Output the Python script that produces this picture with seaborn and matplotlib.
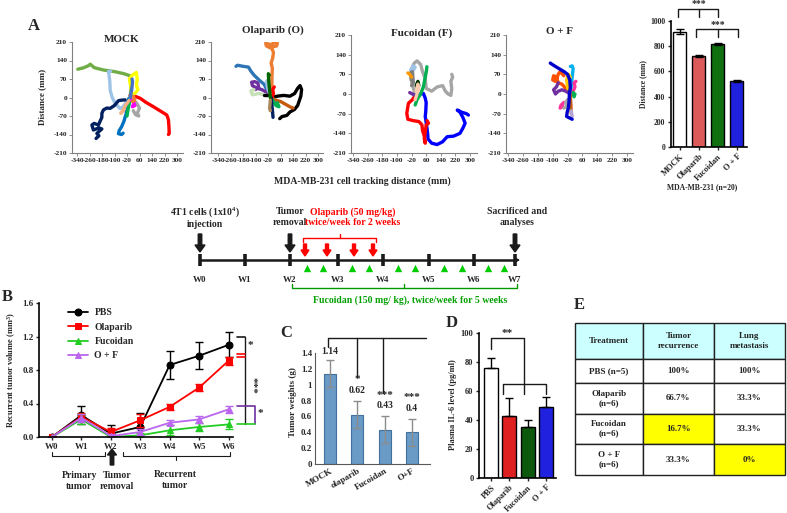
import matplotlib
matplotlib.use("Agg")
import matplotlib.pyplot as plt
import seaborn as sns
import pandas as pd
from matplotlib.patches import FancyArrow

W, H = 787, 513

# ---------------- data ----------------
track_titles = ["MOCK", "Olaparib (O)", "Fucoidan (F)", "O + F"]
track_xticks = [-340, -260, -180, -100, -20, 60, 140, 220, 300]
track_yticks = [-210, -140, -70, 0, 70, 140, 210]

mock_tracks = [
    ("#70AD47", [(0, 0), (4, 30), (2, 60), (0, 82), (-40, 90), (-100, 98), (-170, 104), (-230, 113), (-255, 126), (-268, 120), (-300, 112), (-335, 107)]),
    ("#9DC3E6", [(0, -5), (-20, -15), (-45, -35), (-65, -42), (-95, -22), (-115, 0), (-128, 28), (-130, 60), (-135, 85), (-139, 98), (-125, 100)]),
    ("#002060", [(-32, -9), (-55, -10), (-75, -12), (-100, -30), (-128, -41), (-150, -40), (-171, -47), (-181, -60), (-181, -75), (-203, -104), (-230, -98), (-245, -104), (-235, -123), (-200, -115), (-181, -119), (-213, -136), (-200, -145), (-218, -155)]),
    ("#FF0000", [(0, 8), (30, 5), (64, -3), (100, -18), (149, -35), (190, -50), (234, -66), (240, -75), (245, -85), (248, -110), (250, -136), (245, -140)]),
    ("#FFFF00", [(10, 10), (5, 40), (-5, 70), (15, 85), (40, 95), (45, 70), (40, 45), (50, 30), (30, 15), (10, 10)]),
    ("#0070C0", [(-10, -5), (-20, -30), (-25, -60), (-40, -90), (-55, -111), (-70, -125), (-75, -137), (-55, -140), (-45, -135)]),
    ("#00B050", [(0, -5), (-8, -30), (-15, -50), (-20, -70)]),
    ("#A5A5A5", [(10, -10), (40, -20), (60, -40), (45, -60), (55, -70), (35, -65), (20, -50)]),
    ("#F4B183", [(-5, -10), (-30, -30), (-45, -50), (-60, -60), (-40, -45)]),
    ("#FF00FF", [(10, -10), (25, -20), (15, -35), (30, -30)]),
    ("#ED7D31", [(20, 5), (30, -10), (15, -15)]),
    ("#4472C4", [(0, 0), (10, 30), (15, 60), (12, 70)]),
]
olap_tracks = [
    ("#ED7D31", [(0, 0), (5, 40), (5, 80), (8, 110), (0, 130), (10, 150), (15, 170), (5, 185), (-30, 195), (-35, 205), (0, 200), (20, 208), (40, 205), (35, 195), (10, 192)]),
    ("#2E75B6", [(0, 0), (-20, 20), (-45, 50), (-75, 65), (-110, 85), (-130, 100), (-145, 115), (-180, 118), (-215, 122), (-225, 118)]),
    ("#7030A0", [(0, 0), (-30, 20), (-60, 30), (-90, 35), (-120, 45), (-125, 58), (-105, 60), (-85, 55), (-80, 40), (-100, 30)]),
    ("#C5E0B4", [(0, 0), (-40, 10), (-80, 15), (-120, 10), (-130, 25), (-110, 30)]),
    ("#9DC3E6", [(0, 0), (-20, 30), (-30, 60), (-15, 70)]),
    ("#000000", [(0, 0), (40, 5), (80, 8), (120, 5), (150, 15), (170, 35), (185, 45), (195, 30), (190, 5), (170, -30), (150, -45), (120, -55), (100, -68), (70, -72), (55, -80)]),
    ("#000000", [(-45, 8), (-25, 8)]),
    ("#C55A11", [(0, 0), (30, -10), (60, -15), (90, -25), (120, -35), (140, -40)]),
    ("#00B050", [(0, 0), (15, -15), (30, -30), (50, -35), (40, -20)]),
    ("#FF0000", [(5, 0), (15, 15), (10, 30), (20, 40)]),
    ("#002060", [(0, 0), (5, -30), (10, -60), (12, -75)]),
    ("#006400", [(-5, 0), (-10, 30), (-15, 60), (-18, 90), (-12, 85)]),
    ("#A9865B", [(-5, -10), (-10, -40), (-5, -50)]),
]
fuc_tracks = [
    ("#A5A5A5", [(0, 0), (-15, 30), (-25, 60), (-20, 90), (-5, 110), (10, 118), (30, 105), (40, 80), (55, 55), (60, 20), (90, 10), (120, 25), (150, 30), (165, 10), (180, 0), (195, -5), (200, 20), (195, 45), (205, 60), (200, 70)]),
    ("#0000FF", [(0, -5), (30, 0), (45, 2), (55, -15), (60, -30), (58, -60), (55, -80), (62, -110), (68, -140), (70, -160), (90, -175), (120, -180), (150, -170), (175, -152), (210, -150), (245, -140), (262, -120), (273, -104), (262, -85), (245, -65), (230, -57), (255, -65), (280, -70), (291, -75)]),
    ("#FF0000", [(0, -5), (-15, -20), (-37, -33), (-46, -69), (-40, -90), (-10, -95), (20, -98), (37, -110), (40, -130), (50, -150), (55, -175), (50, -160), (60, -110), (73, -104), (65, -95)]),
    ("#00B050", [(0, -39), (10, -20), (30, 0), (45, 26), (55, 60), (62, 85), (64, 97)]),
    ("#9DC3E6", [(-25, 85), (-10, 100), (0, 95), (-15, 80)]),
    ("#7F7F7F", [(-20, 50), (-25, 75), (-15, 80), (-10, 40), (-20, 30)]),
    ("#FF9900", [(-40, 75), (-30, 70), (-20, 60)]),
    ("#003300", [(5, 30), (15, 45), (20, 30), (10, 25)]),
    ("#7030A0", [(-30, 5), (-15, 0), (0, -5)]),
    ("#F8CBAD", [(0, -20), (10, 0), (20, 20), (15, 35), (5, 10)]),
]
of_tracks = [
    ("#00B0F0", [(-5, 0), (0, 30), (5, 60), (10, 90), (5, 100), (-5, 98)]),
    ("#FF5000", [(-10, 10), (-30, 20), (-50, 35), (-70, 40), (-80, 60), (-95, 65), (-100, 50), (-85, 45), (-70, 70), (-60, 80), (-40, 65)]),
    ("#FFCC00", [(-10, 0), (-20, 25), (-25, 50), (-15, 70), (-5, 60)]),
    ("#7030A0", [(-5, 0), (-30, 10), (-50, 15), (-70, 10), (-85, 0), (-95, 15), (-80, 25), (-70, 40)]),
    ("#FF3399", [(0, 0), (10, 10), (20, 25), (15, 40), (25, 45)]),
    ("#FF3399", [(-40, -30), (-55, -40), (-60, -50), (-45, -45)]),
    ("#00B050", [(10, 5), (15, -10), (20, 0)]),
    ("#A5A5A5", [(-20, -20), (-30, -30), (-25, -45), (-40, -50)]),
    ("#C55A11", [(-5, -5), (-2, -40), (0, -70)]),
    ("#B4A7D6", [(0, -60), (5, -80)]),
    ("#0000CC", [(-113, 110), (-90, 100), (-60, 88), (-35, 78), (-20, 70), (-8, 50), (-5, 24), (-10, 0), (-12, -25), (-15, -47), (-22, -65), (-25, -80), (-10, -85), (5, -90)]),
]
all_tracks = [mock_tracks, olap_tracks, fuc_tracks, of_tracks]

a_groups = ["MOCK", "Olaparib", "Fucoidan", "O + F"]
a_dist = [915, 720, 820, 525]
a_err = [20, 8, 8, 8]

weeks = ["W0", "W1", "W2", "W3", "W4", "W5", "W6"]
b_series = ["PBS", "Olaparib", "Fucoidan", "O + F"]
b_pbs = [0, 0.26, 0.04, 0.12, 0.86, 0.97, 1.10]
b_pbs_err = [0, 0.11, 0.10, 0.17, 0.17, 0.16, 0.15]
b_ola = [0, 0.24, 0.06, 0.20, 0.36, 0.59, 0.91]
b_ola_err = [0, 0.05, 0.05, 0.08, 0.04, 0.04, 0.05]
b_fuc = [0, 0.21, 0.00, 0.02, 0.08, 0.12, 0.15]
b_fuc_err = [0, 0.06, 0.02, 0.03, 0.06, 0.05, 0.06]
b_of = [0, 0.23, 0.01, 0.06, 0.17, 0.21, 0.33]
b_of_err = [0, 0.05, 0.02, 0.04, 0.03, 0.04, 0.04]

c_groups = ["MOCK", "olaparib", "Fucoidan", "O+F"]
c_vals = [1.14, 0.62, 0.43, 0.40]
c_err = [0.17, 0.17, 0.17, 0.17]
c_stars = ["", "*", "***", "***"]

d_groups = ["PBS", "Olaparib", "Fucoidan", "O + F"]
d_vals = [76, 43, 35, 49]
d_err = [7, 12, 5, 7]

e_header = ["Treatment", "Tumor\nrecurrence", "Lung\nmetastasis"]
e_treat = ["PBS (n=5)", "Olaparib\n(n=6)", "Fucoidan\n(n=6)", "O + F\n(n=6)"]
e_recur = ["100%", "66.7%", "16.7%", "33.3%"]
e_meta = ["100%", "33.3%", "33.3%", "0%"]

timeline_weeks = ["W0", "W1", "W2", "W3", "W4", "W5", "W6", "W7"]

# ---------------- style ----------------
sns.set_theme(style="white")
plt.rcParams['font.family'] = ['Liberation Serif', 'DejaVu Serif']
plt.rcParams['font.weight'] = 'bold'
plt.rcParams['axes.labelweight'] = 'bold'
plt.rcParams['mathtext.fontset'] = 'custom'
plt.rcParams['mathtext.rm'] = 'Liberation Serif:bold'
plt.rcParams['mathtext.it'] = 'Liberation Serif:bold'
plt.rcParams['mathtext.bf'] = 'Liberation Serif:bold'

fig = plt.figure(figsize=(W / 100, H / 100), dpi=100)
bg = fig.add_axes([0, 0, 1, 1])
bg.set_xlim(0, W)
bg.set_ylim(H, 0)
bg.axis('off')


def add_ax(x0, y0, x1, y1):
    ax = fig.add_axes([x0 / W, 1 - y1 / H, (x1 - x0) / W, (y1 - y0) / H])
    ax.patch.set_alpha(0)
    return ax


def style_spines(ax, color='black', lw=1.0):
    for s in ['top', 'right']:
        ax.spines[s].set_visible(False)
    for s in ['left', 'bottom']:
        ax.spines[s].set_color(color)
        ax.spines[s].set_linewidth(lw)


# ---------------- Panel A: tracks ----------------
boxes = [(72, 42, 183, 153), (211, 42, 323, 153), (351, 35, 477, 153), (506, 35, 633, 153)]
xlims = [(-372, 338), (-385, 332), (-351, 338), (-351, 332)]
title_xy = [(122, 39), (273, 30), (422, 33), (560, 31)]
for box, xl, tracks, title, txy in zip(boxes, xlims, all_tracks, track_titles, title_xy):
    ax = add_ax(*box)
    for color, pts in tracks:
        xs = [p[0] for p in pts]
        ys = [p[1] for p in pts]
        sns.lineplot(x=xs, y=ys, sort=False, estimator=None, color=color, lw=2.4,
                     ax=ax, solid_capstyle='round', solid_joinstyle='round')
    ax.set_xlim(*xl)
    ax.set_ylim(-210, 210)
    ax.set_xticks(track_xticks)
    ax.set_yticks(track_yticks)
    ax.set_xticklabels([str(t) for t in track_xticks])
    ax.set_yticklabels([str(t) for t in track_yticks])
    ax.tick_params(axis='both', length=2, width=0.6, color='#808080', pad=1.5,
                   labelsize=5.3, direction='out', bottom=True, left=True)
    style_spines(ax, '#808080', 0.8)
    bg.text(txy[0], txy[1], title, ha='center', va='center', fontsize=8)

bg.text(42, 97, "Distance (mm)", rotation=90, ha='center', va='center', fontsize=6.5)
bg.text(362, 181, "MDA-MB-231 cell tracking distance (mm)", ha='center', va='center', fontsize=7)
bg.text(34, 26, "A", ha='center', va='center', fontsize=12)

# ---------------- Panel A: bar ----------------
ax = add_ax(671, 21, 747, 147)
dfa = pd.DataFrame({"g": a_groups, "v": a_dist})
sns.barplot(data=dfa, x="g", y="v", hue="g", palette=["white", "#F24444", "#008000", "#0000FF"],
            edgecolor="black", linewidth=1.0, width=0.68, legend=False, ax=ax)
ax.errorbar(range(len(a_groups)), a_dist, yerr=a_err, fmt='none', ecolor='black',
            elinewidth=1, capsize=3, capthick=1)
ax.set_xlim(-0.47, 3.53)
ax.set_ylim(0, 1000)
ax.set_yticks([0, 200, 400, 600, 800, 1000])
ax.set_xlabel("")
ax.set_ylabel("Distance (mm)", fontsize=5.5, labelpad=2)
ax.set_xticks(range(4))
ax.set_xticklabels(a_groups, rotation=45, ha='right', rotation_mode='anchor', fontsize=6)
ax.tick_params(axis='both', length=2.5, width=1, pad=1.5, labelsize=5.5, direction='out', bottom=True, left=True)
ax.tick_params(axis='x', labelsize=6)
style_spines(ax, 'black', 1.2)
ax.plot([-0.1, -0.1, 2, 2], [1032, 1095, 1095, 1032], color='k', lw=1, clip_on=False)
ax.plot([1, 1], [1095, 1032], color='k', lw=1, clip_on=False)
ax.plot([0.85, 0.85, 3.05, 3.05], [873, 937, 937, 873], color='k', lw=1, clip_on=False)
ax.plot([2, 2], [937, 873], color='k', lw=1, clip_on=False)
ax.text(1, 1135, "***", ha='center', va='center', fontsize=7, clip_on=False)
ax.text(2, 976, "***", ha='center', va='center', fontsize=7, clip_on=False)
bg.text(702, 187, "MDA-MB-231 (n=20)", ha='center', va='center', fontsize=5.5)

# ---------------- timeline ----------------
week_x = [200, 245, 290, 338, 383, 429, 474, 515]
bg.plot([200, 516], [260, 260], color='k', lw=1.8)
bg.annotate('', xy=(523, 260), xytext=(512, 260),
            arrowprops=dict(arrowstyle='-|>', color='k', lw=1.2, mutation_scale=6))
for x, lab in zip(week_x, timeline_weeks):
    bg.plot([x, x], [254, 266], color='k', lw=2.6, solid_capstyle='butt')
    bg.text(x, 280, lab, ha='center', va='center', fontsize=6.5)
for x in [200, 290, 515]:
    bg.add_patch(FancyArrow(x, 234, 0, 18, width=3.5, head_width=10, head_length=7,
                            length_includes_head=True, color='k'))
for x in [305, 327, 354, 373]:
    bg.add_patch(FancyArrow(x, 244, 0, 12, width=3, head_width=8, head_length=6,
                            length_includes_head=True, color='#FF0000'))
tri_x = [307, 323, 352, 369, 398, 415, 444, 462, 488, 504]
bg.scatter(tri_x, [268] * len(tri_x), marker='^', s=28, color='#00CC00', linewidths=0)
bg.plot([303, 303, 376, 376], [242, 238, 238, 242], color='#FF0000', lw=1)
bg.plot([340, 340], [238, 234], color='#FF0000', lw=1)
bg.plot([292, 292, 517, 517], [284, 288, 288, 284], color='#009900', lw=1)
bg.plot([404, 404], [288, 284], color='#009900', lw=1)
bg.text(205, 217, "4T1 cells (1x10$^{4}$)\ninjection", ha='center', va='center', fontsize=7, linespacing=1.15)
bg.text(290, 217, "Tumor\nremoval", ha='center', va='center', fontsize=7, linespacing=1.15)
bg.text(353, 217, "Olaparib (50 mg/kg)\ntwice/week for 2 weeks", ha='center', va='center',
        fontsize=7, color='#FF0000', linespacing=1.15)
bg.text(517, 217, "Sacrificed and\nanalyses", ha='center', va='center', fontsize=7, linespacing=1.15)
bg.text(410, 300, "Fucoidan (150 mg/ kg), twice/week for 5 weeks", ha='center', va='center',
        fontsize=7, color='#00A000')

# ---------------- Panel B ----------------
ax = add_ax(39, 303, 233, 437)
xs = list(range(len(weeks)))
b_data = [(b_pbs, b_pbs_err, 'black', 'o'), (b_ola, b_ola_err, '#FF0000', 's'),
          (b_fuc, b_fuc_err, '#22CC22', '^'), (b_of, b_of_err, '#BB66EE', '^')]
for name, (vals, errs, col, mk) in zip(b_series, b_data):
    ax.errorbar(xs, vals, yerr=errs, fmt='none', ecolor=col, elinewidth=1, capsize=3, capthick=1)
    sns.lineplot(x=xs, y=vals, color=col, marker=mk, markersize=5, markeredgecolor=col,
                 lw=1.3, ax=ax, label=name, sort=False, estimator=None)
ax.set_xlim(-0.44, 6.15)
ax.set_ylim(0, 1.6)
ax.set_yticks([0, 0.4, 0.8, 1.2, 1.6])
ax.set_yticklabels(["0.0", "0.4", "0.8", "1.2", "1.6"])
ax.set_xticks(xs)
ax.set_xticklabels(weeks)
ax.tick_params(axis='both', length=2.5, width=1, pad=1.5, labelsize=6.5, direction='out', bottom=True, left=True)
style_spines(ax, 'black', 1.2)
ax.set_ylabel("Recurrent tumor volume (mm$^{3}$)", fontsize=6, labelpad=3)
leg = ax.legend(loc='upper left', bbox_to_anchor=(0.13, 0.99), frameon=False, fontsize=7,
                handlelength=2.0, labelspacing=0.55, borderaxespad=0, handletextpad=0.7)
ax.plot([6.27, 6.57], [1.2, 1.2], color='k', lw=1.2, clip_on=False)
ax.plot([6.57, 6.57], [1.2, 0.15], color='k', lw=1.0, clip_on=False)
ax.plot([6.27, 6.57], [0.99, 0.99], color='#FF0000', lw=1.2, clip_on=False)
ax.plot([6.27, 6.57], [0.955, 0.955], color='#FF0000', lw=1.2, clip_on=False)
ax.plot([6.27, 6.91, 6.91], [0.37, 0.37, 0.15], color='#7030A0', lw=1.2, clip_on=False)
ax.plot([6.27, 6.91], [0.15, 0.15], color='#22CC22', lw=1.2, clip_on=False)
ax.text(6.75, 1.09, "*", ha='center', va='center', fontsize=8, clip_on=False)
ax.text(6.78, 0.62, "***", ha='center', va='center', fontsize=8, rotation=270, clip_on=False)
ax.text(7.08, 0.28, "*", ha='center', va='center', fontsize=8, clip_on=False)
# below axis
bg.plot([52, 52, 105, 105], [452, 456, 456, 452], color='k', lw=0.8)
bg.plot([79, 79], [456, 460], color='k', lw=0.8)
bg.plot([123, 123, 230, 230], [452, 456, 456, 452], color='k', lw=0.8)
bg.plot([176, 176], [456, 460], color='k', lw=0.8)
bg.add_patch(FancyArrow(112, 465, 0, -16, width=3.5, head_width=9, head_length=6,
                        length_includes_head=True, color='k'))
bg.text(79, 481, "Primary\ntumor", ha='center', va='center', fontsize=7, linespacing=1.2)
bg.text(117, 481, "Tumor\nremoval", ha='center', va='center', fontsize=7, linespacing=1.2)
bg.text(175, 480, "Recurrent\ntumor", ha='center', va='center', fontsize=7, linespacing=1.2)
bg.text(7, 297, "B", ha='center', va='center', fontsize=12)

# ---------------- Panel C ----------------
ax = add_ax(315, 353, 430, 464)
dfc = pd.DataFrame({"g": c_groups, "v": c_vals})
sns.barplot(data=dfc, x="g", y="v", color="#5B9BD5", edgecolor="#41719C", linewidth=0.8,
            width=0.43, ax=ax)
ax.errorbar(range(4), c_vals, yerr=c_err, fmt='none', ecolor='#8C8C8C', elinewidth=1, capsize=3, capthick=1)
ax.set_xlim(-0.55, 3.66)
ax.set_ylim(0, 1.4)
ax.set_yticks([0, 0.2, 0.4, 0.6, 0.8, 1.0, 1.2, 1.4])
ax.set_yticklabels(["0", "0.2", "0.4", "0.6", "0.8", "1", "1.2", "1.4"])
ax.set_xlabel("")
ax.set_ylabel("")
ax.set_xticks(range(4))
ax.set_xticklabels(c_groups, rotation=30, ha='right', rotation_mode='anchor', fontsize=6.5)
ax.tick_params(axis='both', length=0, pad=2, labelsize=6.5, bottom=False, left=False)
style_spines(ax, '#595959', 0.8)
for i, (v, e, st) in enumerate(zip(c_vals, c_err, c_stars)):
    ax.text(i, v + e + (0.135 if i > 0 else 0.11) - (0.0 if i > 0 else 0), f"{v:g}",
            ha='center', va='center', fontsize=7, clip_on=False)
    if st:
        ax.text(i, v + e + 0.27, st, ha='center', va='center', fontsize=8, clip_on=False)
ax.plot([-0.07, -0.07, 3.5], [1.48, 1.59, 1.59], color='k', lw=1, clip_on=False)
ax.plot([1, 1], [1.59, 1.10], color='k', lw=1, clip_on=False)
ax.plot([1.95, 1.95], [1.59, 0.90], color='k', lw=1, clip_on=False)
bg.text(293, 402, "Tumor weights (g)", rotation=90, ha='center', va='center', fontsize=6.5)
bg.text(286, 333, "C", ha='center', va='center', fontsize=12)

# ---------------- Panel D ----------------
ax = add_ax(479, 333, 556, 478)
dfd = pd.DataFrame({"g": d_groups, "v": d_vals})
sns.barplot(data=dfd, x="g", y="v", hue="g", palette=["white", "#FF0000", "#006400", "#0000FF"],
            edgecolor="black", linewidth=1.0, width=0.77, legend=False, ax=ax)
for i, (v, e) in enumerate(zip(d_vals, d_err)):
    ax.errorbar([i], [v], yerr=[[0], [e]], fmt='none', ecolor='black', elinewidth=1, capsize=3, capthick=1)
ax.set_xlim(-0.66, 3.55)
ax.set_ylim(0, 100)
ax.set_yticks([0, 20, 40, 60, 80, 100])
ax.set_xlabel("")
ax.set_ylabel("")
ax.set_xticks(range(4))
ax.set_xticklabels(d_groups, rotation=45, ha='right', rotation_mode='anchor', fontsize=6)
ax.tick_params(axis='both', length=2.5, width=1, pad=1.5, labelsize=6, direction='out', bottom=True, left=True)
style_spines(ax, 'black', 1.2)
ax.plot([0, 0, 1.8, 1.8], [89, 96.5, 96.5, 64.5], color='k', lw=1, clip_on=False)
ax.plot([0.65, 0.65, 3.0, 3.0], [58, 64.5, 64.5, 58], color='k', lw=1, clip_on=False)
ax.plot([1.8, 1.8], [64.5, 58], color='k', lw=1, clip_on=False)
ax.text(0.9, 99.5, "**", ha='center', va='center', fontsize=8, clip_on=False)
bg.text(453, 405, "Plasma IL-6 level (pg/ml)", rotation=90, ha='center', va='center', fontsize=6)
bg.text(452, 323, "D", ha='center', va='center', fontsize=12)

# ---------------- Panel E ----------------
ax = add_ax(575, 323, 785, 475)
ax.axis('off')
cells = [e_header] + [[t, r, m] for t, r, m in zip(e_treat, e_recur, e_meta)]
colors = [["#CCFFFF"] * 3] + [["white"] * 3 for _ in e_treat]
colors[3][1] = "#FFFF00"
colors[4][2] = "#FFFF00"
tbl = ax.table(cellText=cells, cellColours=colors, cellLoc='center', bbox=[0, 0, 1, 1])
tbl.auto_set_font_size(False)
row_h = [36, 24, 31, 30, 31]
col_w = [68, 71, 71]
for (r, c), cell in tbl.get_celld().items():
    cell.set_height(row_h[r])
    cell.set_width(col_w[c])
    cell.set_linewidth(1.0)
    cell.set_edgecolor('#222222')
    cell.get_text().set_fontsize(6.5)
    cell.get_text().set_fontweight('bold')
bg.text(579, 305, "E", ha='center', va='center', fontsize=12)

fig.savefig("out.png", dpi=100)
